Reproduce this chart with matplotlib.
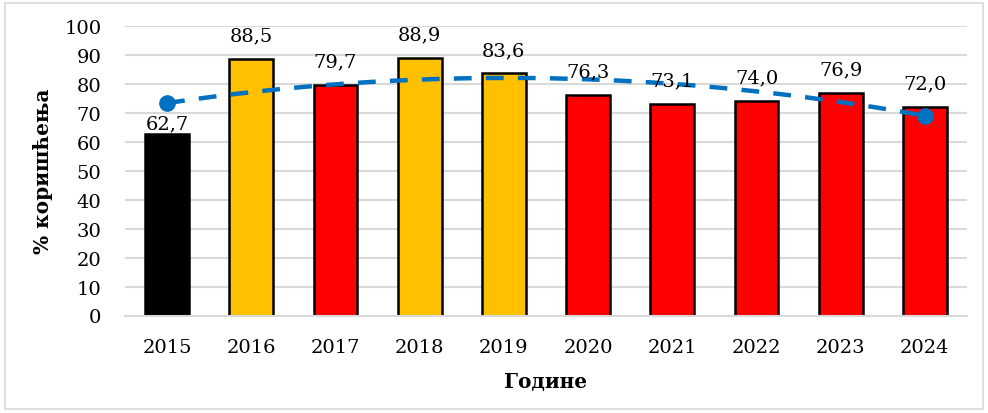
import numpy as np
import matplotlib
matplotlib.use("Agg")
import matplotlib.pyplot as plt
from matplotlib.patches import Rectangle

years = ["2015", "2016", "2017", "2018", "2019", "2020", "2021", "2022", "2023", "2024"]
values = [62.7, 88.5, 79.7, 88.9, 83.6, 76.3, 73.1, 74.0, 76.9, 72.0]
colors = ["#000000", "#FFC000", "#FF0000", "#FFC000", "#FFC000",
          "#FF0000", "#FF0000", "#FF0000", "#FF0000", "#FF0000"]
labels = ["62,7", "88,5", "79,7", "88,9", "83,6", "76,3", "73,1", "74,0", "76,9", "72,0"]

plt.rcParams['font.family'] = ['DejaVu Serif']

W, H = 988, 414
fig = plt.figure(figsize=(W / 100, H / 100), dpi=100)
ax = fig.add_axes([125 / W, 1 - 316.5 / H, (967 - 125) / W, (316.5 - 27) / H])

x = np.arange(len(years))
ax.bar(x, values, width=0.52, color=colors, edgecolor="black", linewidth=1.8, zorder=2)

# polynomial (order 2) trendline like Excel
coef = np.polyfit(x + 1, values, 2)
xs = np.linspace(0, len(years) - 1, 200)
ys = np.polyval(coef, xs + 1)
ax.plot(xs, ys, color="#0070C0", linewidth=3.2, linestyle=(0, (4, 3.2)), zorder=3)
ax.plot([xs[0], xs[-1]], [ys[0], ys[-1]], linestyle="none", marker="o",
        markersize=11, color="#0070C0", zorder=4)

# label offsets above bar tops (first label was moved down in the original)
label_offsets = [3.8, 8.1, 8.1, 8.1, 8.1, 8.1, 8.1, 8.1, 8.1, 8.1]
for xi, v, lab, off in zip(x, values, labels, label_offsets):
    ax.text(xi, v + off, lab, ha="center", va="center", fontsize=14, color="black", zorder=5)

ax.set_xlim(-0.5, len(years) - 0.5)
ax.set_ylim(0, 100)
ax.set_yticks(np.arange(0, 101, 10))
ax.set_xticks(x)
ax.set_xticklabels(years)
ax.tick_params(axis="both", length=0, labelsize=14, colors="black")
ax.tick_params(axis="x", pad=16)
ax.tick_params(axis="y", pad=17)
ax.grid(axis="y", color="#D9D9D9", linewidth=1.5, zorder=0)
ax.set_axisbelow(True)
for s in ["top", "right", "left"]:
    ax.spines[s].set_visible(False)
ax.spines["bottom"].set_color("#D9D9D9")
ax.spines["bottom"].set_linewidth(1.5)

fig.text(43 / W, 1 - 171 / H, "% коришћења", rotation=90, ha="center", va="center",
         fontsize=14.5, fontweight="bold")
fig.text(546 / W, 1 - 382 / H, "Године", ha="center", va="center",
         fontsize=14.5, fontweight="bold")

fig.patches.append(Rectangle((5 / W, 4 / H), 978 / W, 406 / H, transform=fig.transFigure,
                             fill=False, edgecolor="#D9D9D9", linewidth=1.2))

fig.savefig("out.png", dpi=100)
